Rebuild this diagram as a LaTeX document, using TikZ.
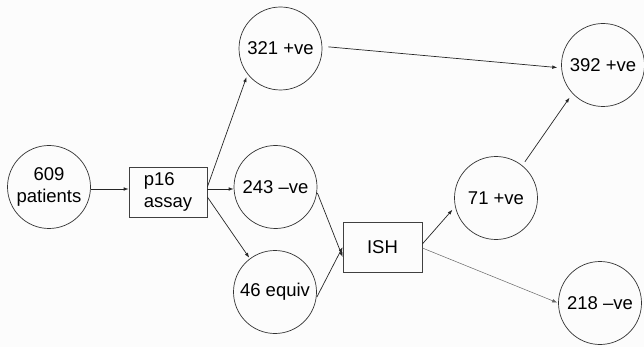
\documentclass[tikz,border=0pt]{standalone}
\usepackage{fontspec}
\setmainfont{Liberation Sans}
\usetikzlibrary{arrows.meta}
\begin{document}
\begin{tikzpicture}[x=1pt,y=-1pt,
  circ/.style={draw=black!80,line width=0.7pt,circle,minimum size=83pt,inner sep=0pt,font=\fontsize{18.5}{22}\selectfont},
  boxn/.style={draw=black!75,line width=0.7pt,rectangle,minimum width=78pt,minimum height=50pt,inner sep=0pt,font=\fontsize{18.5}{22}\selectfont},
  arr/.style={draw=black!85,line width=0.7pt,-{Latex[length=5pt,width=3.6pt]}},
  thin arr/.style={draw=black!60,line width=0.5pt,-{Latex[length=5pt,width=3.6pt]}}]
\fill[black!1] (0,0) rectangle (644,347);
\useasboundingbox (0,0) rectangle (644,347);
\node[circ,align=center] (pat) at (49,187) {609\\patients};
\node[boxn,align=left] (p16) at (168,192) {p16\\assay};
\node[circ] (c321) at (280.5,48.5) {321 +ve};
\node[circ] (c243) at (275.5,187) {243 –ve};
\node[circ] (c46) at (275,292) {46 equiv};
\node[boxn,minimum width=79pt] (ish) at (382.5,247) {ISH};
\node[circ] (c71) at (496,198) {71 +ve};
\node[circ] (c392) at (603,65) {392 +ve};
\node[circ] (c218) at (600,303) {218 –ve};
\draw[arr] ([yshift=-2pt]pat.east) -- ([yshift=-2pt]pat.east -| p16.west);
\draw[arr,shorten >=3pt] ([yshift=5pt]p16.east) -- (c321.218);
\draw[arr] ([yshift=3pt]p16.east) -- ([yshift=-2pt]c243.west);
\draw[arr,shorten >=1pt] ([yshift=-5pt]p16.east) -- (c46.127);
\draw[arr,shorten <=1pt] (c243.-7) -- ([yshift=-10pt]ish.west);
\draw[arr,shorten <=1pt] (c46.-8) -- (ish.west);
\draw[arr,shorten >=4pt] ([yshift=3pt]ish.east) -- (c71.192);
\draw[thin arr,shorten >=1pt] ([yshift=-1pt]ish.east) -- (c218.west);
\draw[arr,shorten <=4.5pt,shorten >=5pt] (c71.51) -- (c392.223);
\draw[arr,shorten <=6pt,shorten >=4pt] (c321.3) -- (c392.184);
\end{tikzpicture}
\end{document}
